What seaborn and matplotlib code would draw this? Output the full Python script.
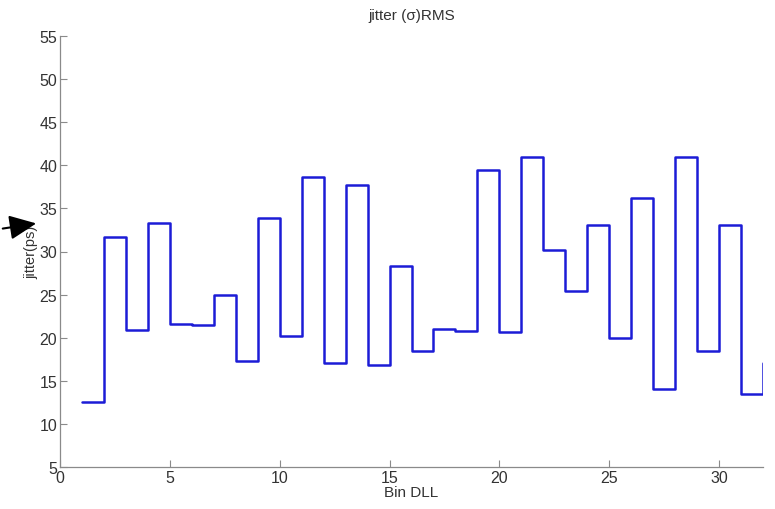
import numpy as np
import pandas as pd
import matplotlib
matplotlib.use("Agg")
import matplotlib.pyplot as plt
import seaborn as sns

# bin index and rms jitter per DLL bin (ps)
bins = list(range(1, 33))
jitter_ps = [12.5, 31.7, 20.9, 33.3, 21.6, 21.5, 25.0, 17.3,
             33.9, 20.2, 38.6, 17.1, 37.7, 16.8, 28.3, 18.5,
             21.0, 20.8, 39.4, 20.7, 41.0, 30.2, 25.4, 33.1,
             20.0, 36.2, 14.1, 41.0, 18.5, 33.1, 13.5, 17.1]
x_ticks = [0, 5, 10, 15, 20, 25, 30]
y_ticks = [5, 10, 15, 20, 25, 30, 35, 40, 45, 50, 55]

df = pd.DataFrame({"bin": bins, "jitter": jitter_ps})

sns.set_style("ticks")
plt.rcParams['font.family'] = ['Liberation Sans', 'DejaVu Sans']

fig = plt.figure(figsize=(7.75, 5.1), dpi=100)
ax = fig.add_axes([60 / 775, 42 / 510, 703 / 775, 431 / 510])

sns.lineplot(data=df, x="bin", y="jitter", ax=ax, drawstyle="steps-post",
             color="#1c1cd6", linewidth=1.8, estimator=None)

ax.set_xlim(0, 32)
ax.set_ylim(5, 55)
ax.set_xticks(x_ticks)
ax.set_yticks(y_ticks)
sns.despine(ax=ax)
for side in ["left", "bottom"]:
    ax.spines[side].set_color("#8a8a8a")
    ax.spines[side].set_linewidth(0.9)
ax.tick_params(direction="in", length=5, width=0.8, color="#8a8a8a",
               labelsize=11.5, labelcolor="#333333", pad=2)

ax.set_title("jitter (σ)RMS", fontsize=11, color="#333333", pad=12)
ax.set_xlabel("Bin DLL", fontsize=11, color="#333333", labelpad=0)
ax.set_ylabel("jitter(ps)", fontsize=10.5, color="#333333", labelpad=1)

# arrow pointing at the y label
fig.patches.append(matplotlib.patches.FancyArrowPatch(
    (0 / 775, 1 - 230 / 510), (39 / 775, 1 - 224 / 510),
    transform=fig.transFigure, arrowstyle="-|>,head_length=1.1,head_width=0.5",
    mutation_scale=15, color="black", linewidth=1.5))

fig.savefig("out.png", dpi=100)
